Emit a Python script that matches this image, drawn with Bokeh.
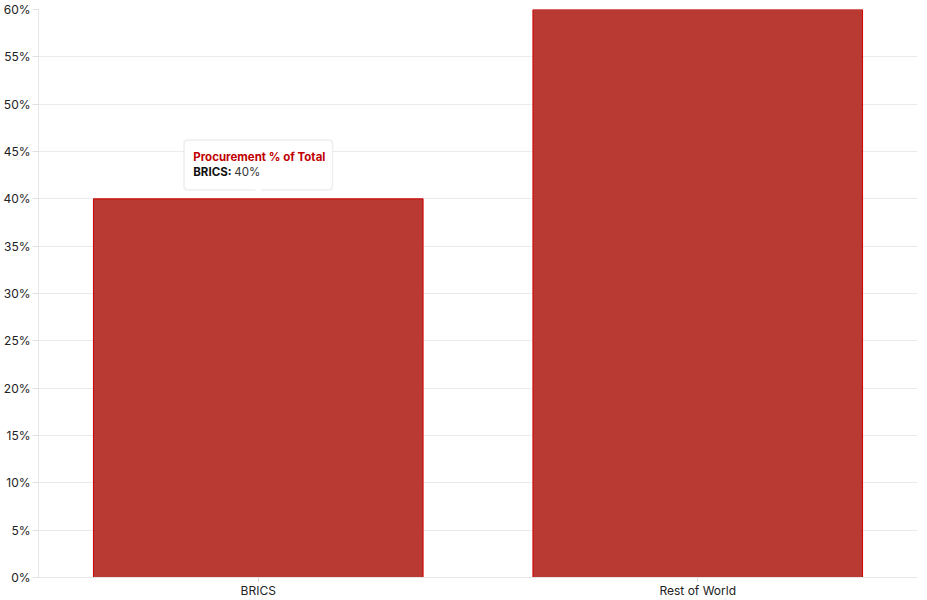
from bokeh.plotting import figure
from bokeh.models import ColumnDataSource, FactorRange, Range1d, FixedTicker, PrintfTickFormatter
from bokeh.core.properties import value
from bokeh.embed import file_html
from bokeh.resources import INLINE

# ---- data ----
series_name = "Procurement % of Total"
categories = ["BRICS", "Rest of World"]
values = [40, 60]
y_ticks = [0, 5, 10, 15, 20, 25, 30, 35, 40, 45, 50, 55, 60]

FONT = "Inter"

src = ColumnDataSource(dict(cat=categories, val=values))

p = figure(
    x_range=FactorRange(*categories, range_padding=0),
    y_range=Range1d(0, 60),
    width=927, height=600,
    output_backend="svg", toolbar_location=None,
    min_border_left=0, min_border_right=10, min_border_top=9, min_border_bottom=0,
)
p.outline_line_color = None
p.background_fill_color = "white"
p.border_fill_color = "white"

p.vbar(x="cat", top="val", width=0.75, source=src,
       fill_color="#b83a32", line_color="#cc0000", line_width=1)

# grid
p.xgrid.grid_line_color = None
p.ygrid.grid_line_color = "#ebebeb"
p.ygrid.grid_line_width = 1

# axes
p.yaxis.ticker = FixedTicker(ticks=y_ticks)
p.yaxis.formatter = PrintfTickFormatter(format="%d%%")
for ax in (p.xaxis[0], p.yaxis[0]):
    ax.axis_line_color = "#e6e6e6"
    ax.major_tick_line_color = "#e0e0e0"
    ax.minor_tick_line_color = None
    ax.major_tick_in = 0
    ax.major_label_text_font = FONT
    ax.major_label_text_font_size = "12px"
    ax.major_label_text_color = "#222222"
p.yaxis.major_tick_out = 6
p.yaxis.major_label_standoff = 2
p.xaxis.major_tick_out = 5
p.xaxis.major_label_standoff = 0

# ---- tooltip-like annotation on first bar ----
tip = ColumnDataSource(dict(
    cat=[categories[0]], val=[values[0]],
    box=[series_name + "\n" + categories[0] + ": " + str(values[0]) + "%"],
    title=[series_name],
    lab=[categories[0] + ":"],
    num=[str(values[0]) + "%"],
    ptr=["\u25BC"],
))

TS = "11.5px"
# shadow
p.text(x="cat", y="val", text="box", source=tip, x_offset=0, y_offset=-8,
       anchor="bottom_center", text_align="left", text_alpha=0,
       text_font=value(FONT), text_font_size=TS, text_font_style="bold",
       text_line_height=1.4, padding=9, border_radius=4,
       background_fill_color="#000000", background_fill_alpha=0.05)
# box
p.text(x="cat", y="val", text="box", source=tip, x_offset=0, y_offset=-9,
       anchor="bottom_center", text_align="left", text_alpha=0,
       text_font=value(FONT), text_font_size=TS, text_font_style="bold",
       text_line_height=1.4, padding=8, border_radius=4,
       background_fill_color="white", border_line_color="#ececec", border_line_width=1)
# pointer
p.text(x="cat", y="val", text="ptr", source=tip, y_offset=-2,
       text_align="center", text_baseline="bottom",
       text_font=value("DejaVu Sans"), text_font_size="13px", text_color="white")
# title line
p.text(x="cat", y="val", text="title", source=tip, x_offset=-65, y_offset=-42,
       text_align="left", text_baseline="middle",
       text_font=value(FONT), text_font_size=TS, text_font_style="bold",
       text_color="#c00000")
# category label
p.text(x="cat", y="val", text="lab", source=tip, x_offset=-65, y_offset=-27,
       text_align="left", text_baseline="middle",
       text_font=value(FONT), text_font_size=TS, text_font_style="bold",
       text_color="#111111")
# value
p.text(x="cat", y="val", text="num", source=tip, x_offset=-24, y_offset=-27,
       text_align="left", text_baseline="middle",
       text_font=value(FONT), text_font_size=TS,
       text_color="#333333")

open("out.html", "w").write(file_html(p, INLINE))
